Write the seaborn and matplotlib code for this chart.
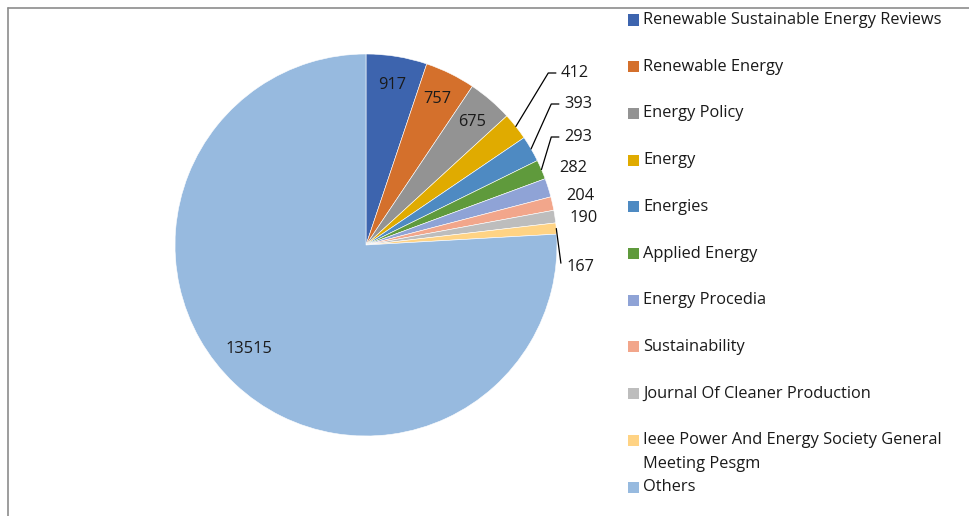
import numpy as np
import matplotlib
matplotlib.use("Agg")
import matplotlib.pyplot as plt
import seaborn as sns
from matplotlib.patches import Rectangle
from matplotlib.lines import Line2D

# data
journals = [
    "Renewable Sustainable Energy Reviews",
    "Renewable Energy",
    "Energy Policy",
    "Energy",
    "Energies",
    "Applied Energy",
    "Energy Procedia",
    "Sustainability",
    "Journal Of Cleaner Production",
    "Ieee Power And Energy Society General\nMeeting Pesgm",
    "Others",
]
counts = [917, 757, 675, 412, 393, 293, 282, 204, 190, 167, 13515]
colors = ["#3D64AE", "#D4702C", "#939393", "#E0AB00", "#4E8AC2", "#5F9A3C",
          "#8FA3D6", "#F2A68B", "#BDBDBD", "#FFD384", "#97BADF"]

sns.set_style("white")
plt.rcParams["font.family"] = ["Open Sans", "DejaVu Sans"]
FS = 11.8

W, H = 969, 516
fig = plt.figure(figsize=(W / 100, H / 100), dpi=100)

# pie placed so centre ~ (366, 245) px, radius ~191 px
cx, cy, R = 366, 245, 191
left, right, top, bottom = 66, 666, 15, 475
ax = fig.add_axes([left / W, 1 - bottom / H, (right - left) / W, (bottom - top) / H])
wedges, _ = ax.pie(counts, colors=colors, startangle=90, counterclock=False,
                   wedgeprops=dict(edgecolor="white", linewidth=0.4))
ax.set_xlim((left - cx) / R, (right - cx) / R)
ax.set_ylim((cy - bottom) / R, (cy - top) / R)
ax.set_aspect("equal", adjustable="box")
ax.axis("off")

total = sum(counts)
frac = np.cumsum([0] + counts) / total
mids = (frac[:-1] + frac[1:]) / 2 * 2 * np.pi  # clockwise from top

# inside labels
for i in [0, 1, 2]:
    r = 0.85
    ax.text(r * np.sin(mids[i]), r * np.cos(mids[i]), str(counts[i]),
            ha="center", va="center", fontsize=FS, color="#1a1a1a")
a = mids[10] + np.radians(5)
ax.text(0.82 * np.sin(a), 0.82 * np.cos(a), str(counts[10]),
        ha="center", va="center", fontsize=FS, color="#1a1a1a")

# outside labels (label positions in pixels, leader lines where Excel drew them)
out_pos = {3: (575, 73), 4: (578, 104), 5: (578, 137), 6: (573, 168),
           7: (580, 196), 8: (584, 218), 9: (580, 267)}
leader = {3: True, 4: True, 5: True, 6: False, 7: False, 8: False, 9: True}
for i, (px, py) in out_pos.items():
    tx, ty = (px - cx) / R, (cy - py) / R
    ax.text(tx, ty, str(counts[i]), ha="center", va="center",
            fontsize=FS, color="#1a1a1a")
    if leader[i]:
        ex, ey = np.sin(mids[i]), np.cos(mids[i])
        if i == 9:
            ax.add_line(Line2D([ex, tx - 0.1], [ey, ty + 0.02],
                               color="black", lw=0.9))
        else:
            kx = tx - 0.14
            ax.add_line(Line2D([ex, kx, tx - 0.1], [ey, ty, ty],
                               color="black", lw=0.9))

# legend drawn as squares + text
lx, ly0, step = 628, 20, 46.7
for i, (name, c) in enumerate(zip(journals, colors)):
    y = ly0 + i * step
    fig.patches.append(Rectangle((lx / W, 1 - (y + 5.5) / H), 11 / W, 11 / H,
                                 transform=fig.transFigure, facecolor=c,
                                 edgecolor="none"))
    for k, line in enumerate(name.split("\n")):
        fig.text(643 / W, 1 - (y + k * 24) / H, line, ha="left", va="center",
                 fontsize=FS, color="#1a1a1a")

# chart area border (only top and left visible)
fig.lines.append(Line2D([8 / W, 1], [1 - 8 / H, 1 - 8 / H],
                        transform=fig.transFigure, color="#8c8c8c", lw=1.2))
fig.lines.append(Line2D([8 / W, 8 / W], [0, 1 - 8 / H],
                        transform=fig.transFigure, color="#8c8c8c", lw=1.2))

fig.savefig("out.png", dpi=100)
